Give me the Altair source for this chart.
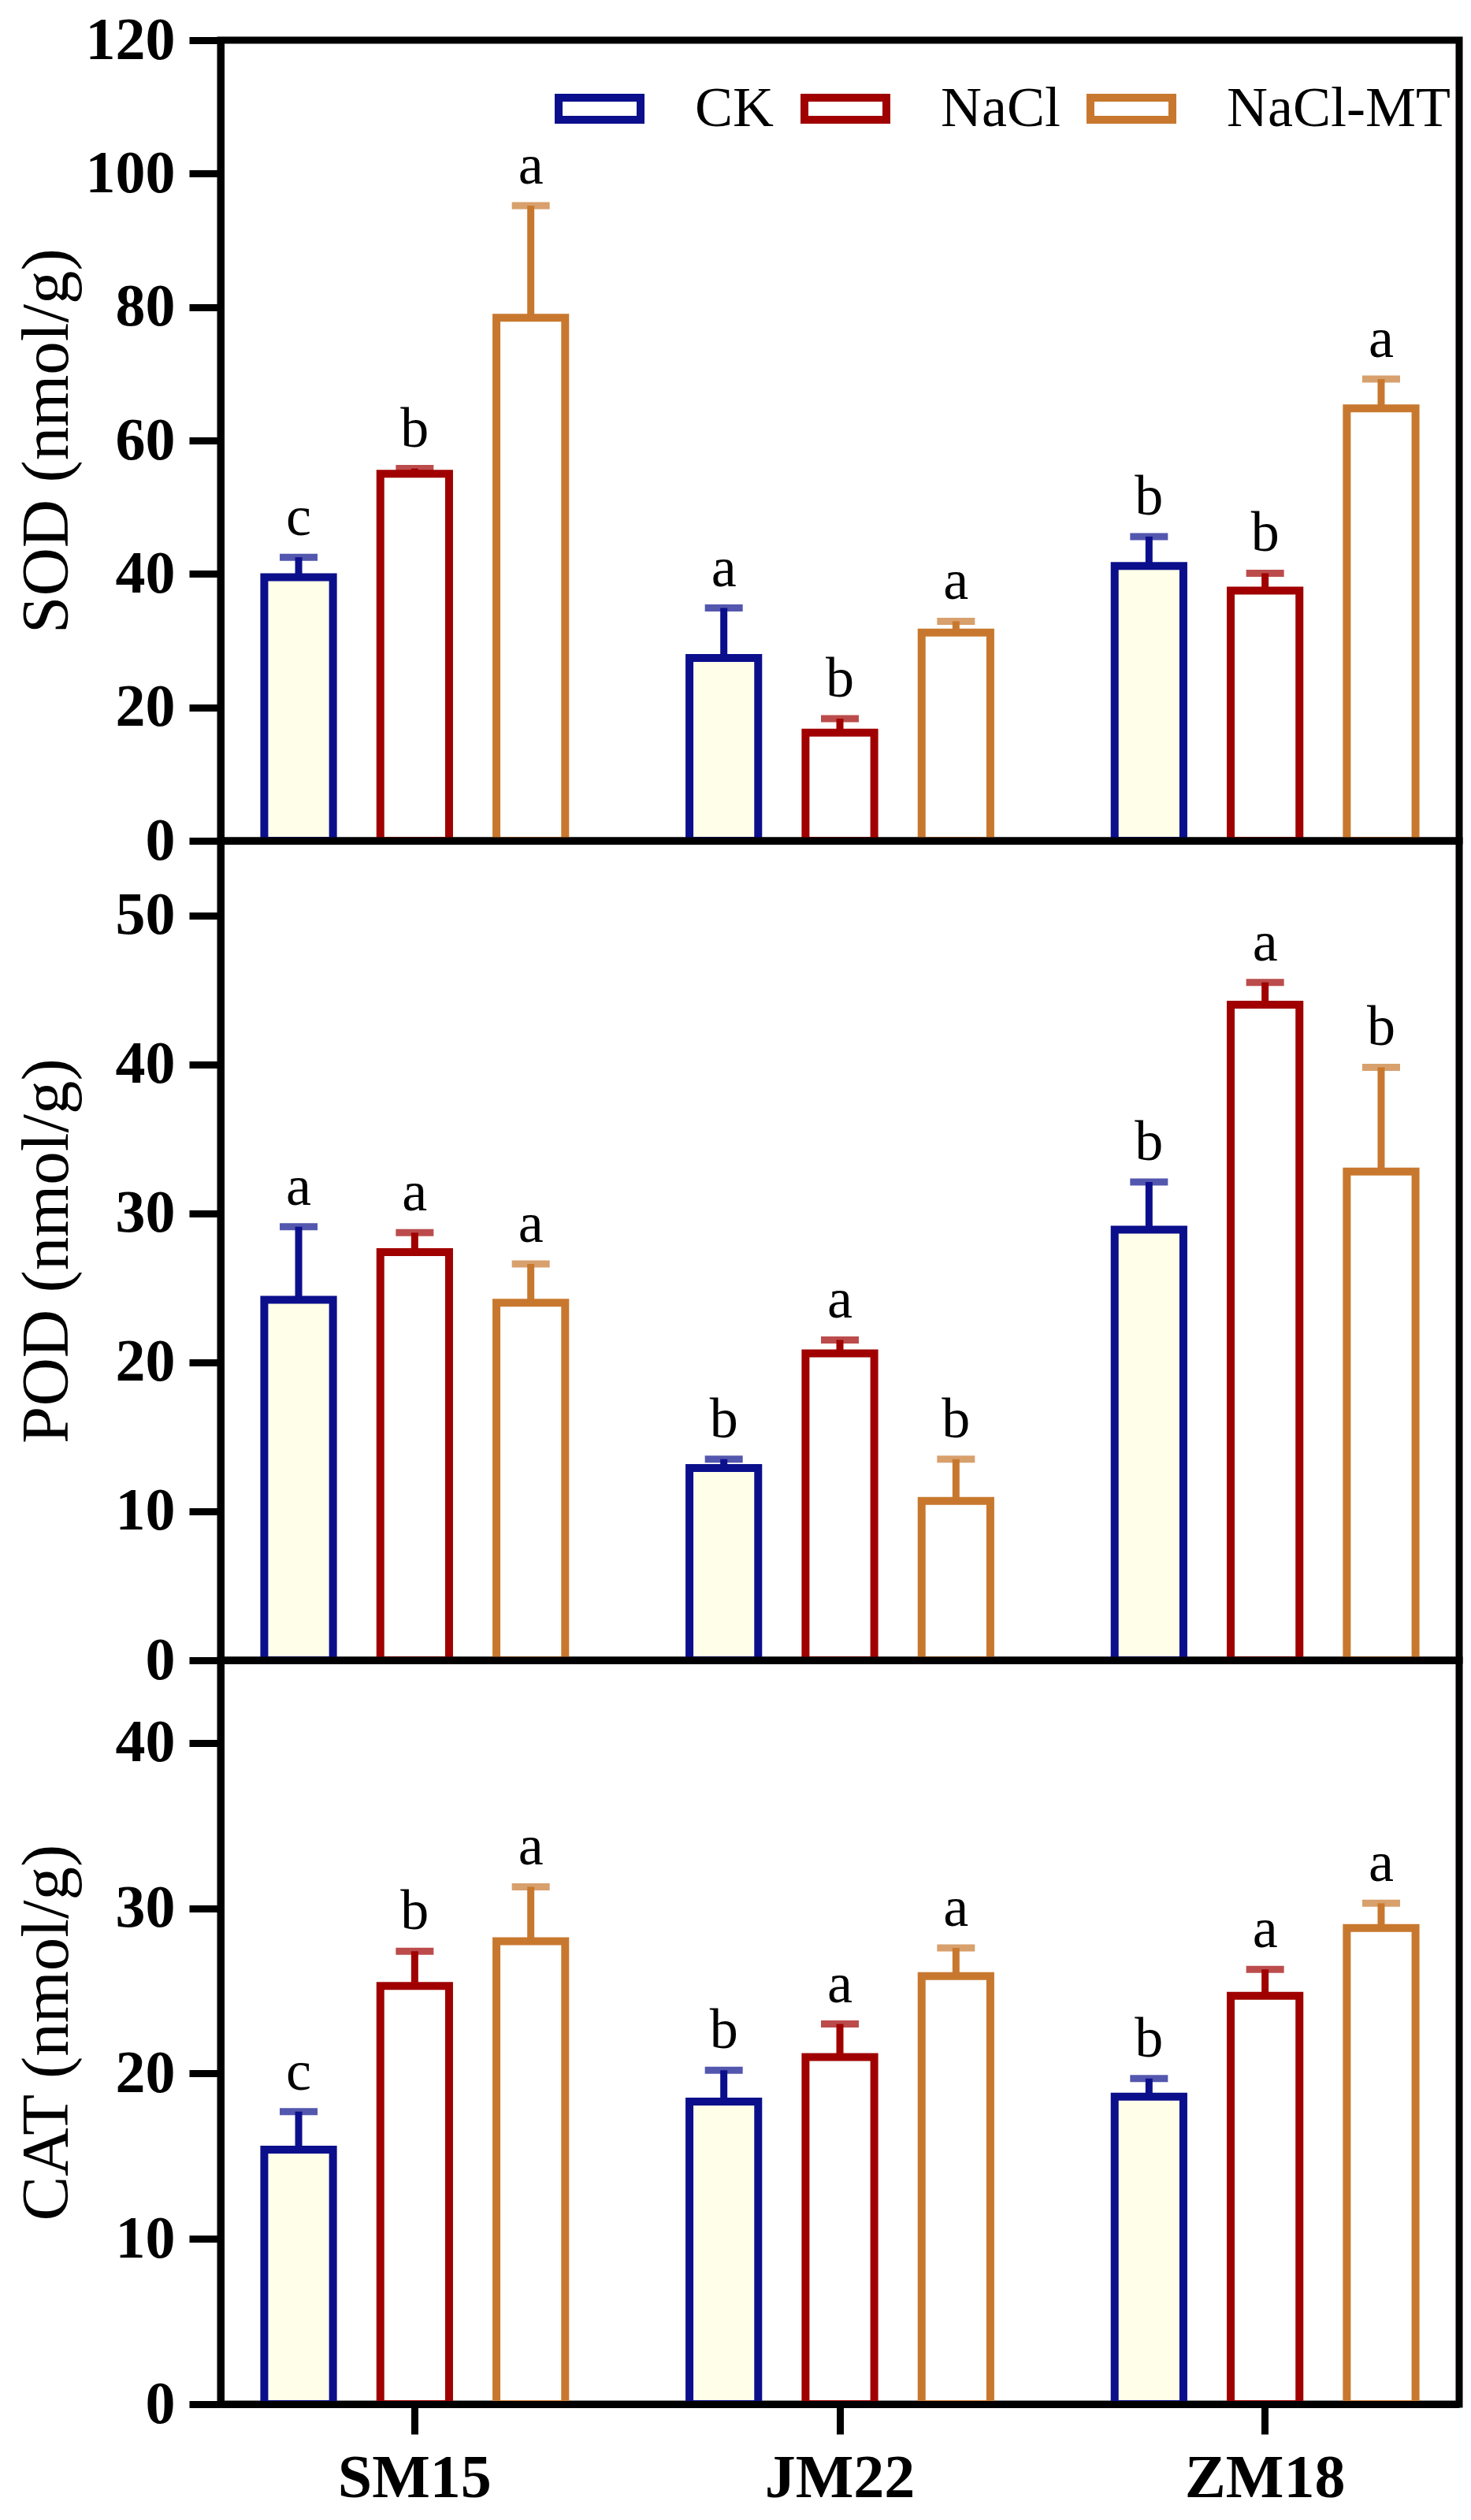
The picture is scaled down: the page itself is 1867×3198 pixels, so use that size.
import altair as alt
import pandas as pd

SERIF = "Liberation Serif"

cultivars = ["SM15", "JM22", "ZM18"]
treatments = ["CK", "NaCl", "NaCl-MT"]

# values listed cultivar by cultivar, treatments in order CK, NaCl, NaCl-MT
sod_mean = [39.5, 55.0, 78.4, 27.4, 16.2, 31.2, 41.2, 37.5, 64.8]
sod_err = [3.0, 0.8, 16.8, 7.5, 2.1, 1.7, 4.4, 2.6, 4.4]
sod_letters = ["c", "b", "a", "a", "b", "a", "b", "b", "a"]

pod_mean = [24.2, 27.4, 24.0, 12.9, 20.6, 10.7, 28.9, 44.0, 32.8]
pod_err = [4.9, 1.3, 2.6, 0.6, 0.9, 2.8, 3.2, 1.5, 7.0]
pod_letters = ["a", "a", "a", "b", "a", "b", "b", "a", "b"]

cat_mean = [15.4, 25.3, 28.0, 18.3, 21.0, 25.9, 18.6, 24.7, 28.8]
cat_err = [2.3, 2.1, 3.3, 1.9, 2.0, 1.7, 1.1, 1.6, 1.5]
cat_letters = ["c", "b", "a", "b", "a", "a", "b", "a", "a"]

stroke_colors = ["#0B0F8C", "#A00000", "#C8782E"]
fill_colors = ["#FFFEE8", "#FFFFFF", "#FFFFFF"]


def make_df(means, errs, letters):
    rows = []
    i = 0
    for c in cultivars:
        for t in treatments:
            rows.append(dict(cultivar=c, treatment=t, mean=means[i],
                             top=means[i] + errs[i], letter=letters[i]))
            i += 1
    return pd.DataFrame(rows)


def panel(df, title, ymax, ticks, height, top=False, bottom=False):
    xscale = alt.Scale(domain=cultivars, paddingInner=0.181, paddingOuter=0.047)
    if bottom:
        xaxis = alt.Axis(title=None, labelFont=SERIF, labelFontSize=78,
                         labelFontWeight="bold", labelColor="black",
                         labelPadding=17, labelLimit=600, tickSize=38,
                         tickWidth=9, tickColor="black", domainWidth=9,
                         domainColor="black", labelAngle=0, zindex=1)
    else:
        xaxis = alt.Axis(title=None, labels=False, ticks=False, domainWidth=9,
                         domainColor="black", zindex=1)
    x = alt.X("cultivar:N", sort=cultivars, scale=xscale, axis=xaxis)
    xo = alt.XOffset("treatment:N", sort=treatments,
                     scale=alt.Scale(domain=treatments, paddingInner=0.408,
                                     paddingOuter=0.204))
    yaxis = alt.Axis(title=title, values=ticks, titleX=-177, titleFont=SERIF,
                     titleFontSize=85, titleFontWeight="normal",
                     titleColor="black", labelFont=SERIF, labelFontSize=76,
                     labelFontWeight="bold", labelColor="black",
                     labelPadding=18, tickSize=40, tickWidth=9,
                     tickColor="black", domainWidth=9, domainColor="black",
                     grid=False, zindex=1)
    yscale = alt.Scale(domain=[0, ymax], nice=False, zero=True)

    def Y(field):
        return alt.Y(field + ":Q", scale=yscale, axis=yaxis)

    cscale = alt.Scale(domain=treatments, range=stroke_colors)
    if top:
        legend = alt.Legend(title=None, orient="none", legendX=424, legendY=30,
                            direction="horizontal",
                            symbolType="M-1,-0.27H1V0.27H-1Z",
                            symbolSize=10816, symbolStrokeWidth=10,
                            symbolFillColor="white", labelFont=SERIF,
                            labelFontSize=72, labelColor="black",
                            labelOffset=64, columnPadding=18, padding=0,
                            labelLimit=600)
    else:
        legend = None

    base = alt.Chart(df)
    bars = base.mark_bar(strokeWidth=10).encode(
        x=x, xOffset=xo, y=Y("mean"),
        stroke=alt.Stroke("treatment:N", sort=treatments, scale=cscale, legend=legend),
        fill=alt.Fill("treatment:N", sort=treatments,
                      scale=alt.Scale(domain=treatments, range=fill_colors),
                      legend=None),
    )
    rule = base.mark_rule(strokeWidth=9).encode(
        x=x, xOffset=xo, y=Y("mean"), y2="top:Q",
        color=alt.Color("treatment:N", sort=treatments, scale=cscale, legend=None),
    )
    cap = base.mark_tick(orient="horizontal", size=48, thickness=9).encode(
        x=x, xOffset=xo, y=Y("top"),
        color=alt.Color("treatment:N", sort=treatments, scale=cscale, legend=None),
    )
    text = base.mark_text(font=SERIF, fontSize=72, color="black", dy=-28,
                          baseline="alphabetic").encode(
        x=x, xOffset=xo, y=Y("top"), text="letter:N",
    )
    return alt.layer(bars, rule, cap, text).properties(width=1572, height=height)


p1 = panel(make_df(sod_mean, sod_err, sod_letters), "SOD (nmol/g)", 120,
           [0, 20, 40, 60, 80, 100, 120], 1016, top=True)
p2 = panel(make_df(pod_mean, pod_err, pod_letters), "POD (nmol/g)", 55,
           [0, 10, 20, 30, 40, 50], 1040)
p3 = panel(make_df(cat_mean, cat_err, cat_letters), "CAT (nmol/g)", 45,
           [0, 10, 20, 30, 40], 944, bottom=True)

chart = alt.vconcat(p1, p2, p3, spacing=0, bounds="flush").resolve_scale(
    y="independent").resolve_legend(stroke="independent").configure_view(
    stroke="black", strokeWidth=9).properties(
    padding={"left": 4, "top": 0, "right": 0, "bottom": 0},
    background="white")

chart.save("out.html", embed_options={"renderer": "svg", "actions": False})
